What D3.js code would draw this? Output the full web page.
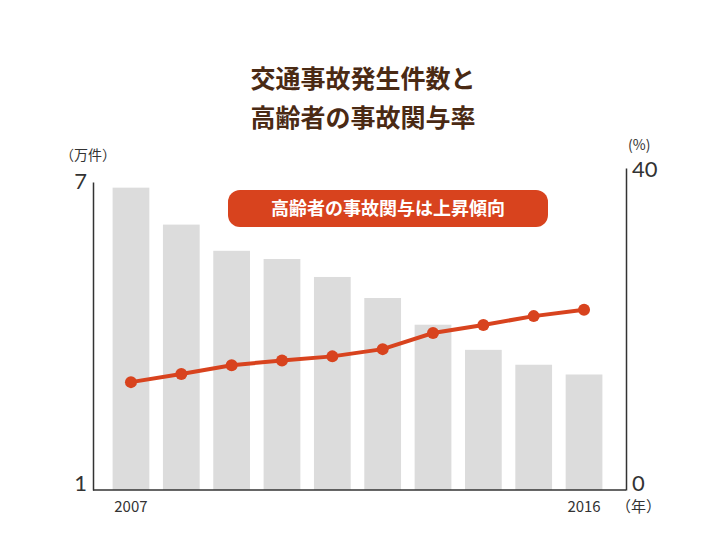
<!DOCTYPE html><html><head><meta charset="utf-8"><script src="https://cdn.jsdelivr.net/npm/d3@7"></script>
<style>body{margin:0;background:#fff}svg{font-family:"Noto Sans CJK JP","Noto Sans",sans-serif}</style></head><body><svg id="c" width="726" height="545"></svg><script>
const years=[2007,2008,2009,2010,2011,2012,2013,2014,2015,2016];
const accidents=[6.89,6.17,5.66,5.50,5.15,4.74,4.22,3.73,3.44,3.25];
const elderlyRate=[13.4,14.4,15.5,16.1,16.6,17.5,19.5,20.5,21.6,22.4];
const leftTicks=[1,7], rightTicks=[0,40];
const svg=d3.select("#c");
const x=d3.scaleBand().domain(years).range([99,616]).padding(0.27);
const yL=d3.scaleLinear().domain([1,7]).range([490,182]);
const yR=d3.scaleLinear().domain([0,40]).range([490,168]);
const brown="#4a2a14", red="#d8431e", dark="#333";
svg.append("text").attr("x",363).attr("y",88).attr("text-anchor","middle").attr("font-size",25).attr("font-weight","bold").attr("fill",brown).text("交通事故発生件数と");
svg.append("text").attr("x",363).attr("y",127).attr("text-anchor","middle").attr("font-size",25).attr("font-weight","bold").attr("fill",brown).text("高齢者の事故関与率");
svg.selectAll(".bar").data(accidents).join("rect").attr("x",(d,i)=>x(years[i])).attr("width",x.bandwidth()).attr("y",d=>yL(d)).attr("height",d=>yL(1)-yL(d)).attr("fill","#dcdcdc");
const gl=svg.append("g").attr("transform","translate(93,0)").call(d3.axisLeft(yL).tickValues(leftTicks).tickFormat(d3.format("d")).tickSize(0).tickPadding(6));
const gr=svg.append("g").attr("transform","translate(626,0)").call(d3.axisRight(yR).tickValues(rightTicks).tickFormat(d3.format("d")).tickSize(0).tickPadding(6));
[gl,gr].forEach(g=>{g.select(".domain").attr("stroke",dark).attr("stroke-width",1.5);g.selectAll("text").attr("font-size",22).attr("fill",dark).attr("font-family","Lato,'Noto Sans',sans-serif");});
gl.selectAll(".tick text").attr("dy",(d)=>d===7?"0.3em":"0em");
gr.selectAll(".tick text").attr("dy",(d)=>d===40?"0.4em":"0em");
svg.append("line").attr("x1",93).attr("x2",626).attr("y1",490).attr("y2",490).attr("stroke",dark).attr("stroke-width",1.5);
svg.append("text").attr("x",60).attr("y",160).attr("font-size",14).attr("fill",dark).text("（万件）");
svg.append("text").attr("x",628).attr("y",150).attr("font-size",14).attr("fill",dark).text("(%)");
svg.append("text").attr("x",x(years[0])+x.bandwidth()/2).attr("y",512).attr("text-anchor","middle").attr("font-size",15).attr("fill",dark).text(years[0]);
svg.append("text").attr("x",x(years[9])+x.bandwidth()/2).attr("y",512).attr("text-anchor","middle").attr("font-size",15).attr("fill",dark).text(years[9]);
svg.append("text").attr("x",616).attr("y",512).attr("font-size",15).attr("fill",dark).text("（年）");
const line=d3.line().x((d,i)=>x(years[i])+x.bandwidth()/2).y(d=>yR(d));
svg.append("path").datum(elderlyRate).attr("d",line).attr("fill","none").attr("stroke",red).attr("stroke-width",4);
svg.selectAll(".pt").data(elderlyRate).join("circle").attr("cx",(d,i)=>x(years[i])+x.bandwidth()/2).attr("cy",d=>yR(d)).attr("r",6).attr("fill",red);
svg.append("rect").attr("x",228).attr("y",190).attr("width",320).attr("height",37).attr("rx",12).attr("fill",red);
svg.append("text").attr("x",388).attr("y",215).attr("text-anchor","middle").attr("font-size",18).attr("font-weight","bold").attr("fill","#fff").text("高齢者の事故関与は上昇傾向");
</script></body></html>
